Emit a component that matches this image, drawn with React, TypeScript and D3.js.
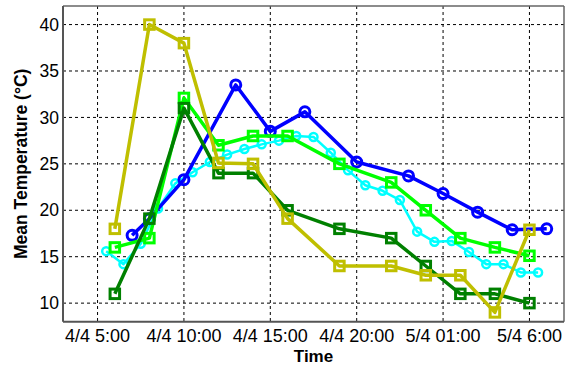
import React from "react";
import * as d3 from "d3";

const W = 568;
const H = 366;

// hours counted from 4/4 00:00
const squareTimes = [6, 8, 10, 12, 14, 16, 19, 22, 24, 26, 28, 30];
const yellowValues = [18, 40, 38, 25.1, 25, 19.1, 14, 14, 13, 13, 9, 17.9];
const darkGreenValues = [11, 19.1, 31, 24, 24, 20, 18, 17, 14, 11, 11, 10];
const lightGreenValues = [16, 17, 32.1, 27, 28, 28, 25, 23, 20, 17, 16, 15.1];

const blueTimes = [7, 8, 10, 13, 15, 17, 20, 23, 25, 27, 29, 31];
const blueValues = [17.3, 19.1, 23.3, 33.5, 28.5, 30.6, 25.2, 23.7, 21.8, 19.8, 17.9, 18];

const cyanTimes = [
  5.5, 6.5, 7.5, 8.5, 9.5, 10.5, 11.5, 12.5, 13.5, 14.5, 15.5, 16.5, 17.5,
  18.5, 19.5, 20.5, 21.5, 22.5, 23.5, 24.5, 25.5, 26.5, 27.5, 28.5, 29.5, 30.5,
];
const cyanValues = [
  15.6, 14.2, 16.4, 20.2, 22.9, 24.1, 25.2, 26.0, 26.6, 27.1, 27.5, 28.0, 27.9,
  26.2, 24.3, 22.7, 22.1, 21.1, 17.7, 16.6, 16.7, 15.5, 14.2, 14.2, 13.3, 13.3,
];

const xTickHours = [5, 10, 15, 20, 25, 30];
const xTickLabels = ["4/4 5:00", "4/4 10:00", "4/4 15:00", "4/4 20:00", "5/4 01:00", "5/4 6:00"];
const yTicks = [10, 15, 20, 25, 30, 35, 40];

const left = 63;
const right = 564;
const top = 6;
const bottom = 321.7;

const x = d3.scaleLinear().domain([3, 32]).range([left, right]);
const y = d3.scaleLinear().domain([8, 42]).range([bottom, top]);

type Series = {
  times: number[];
  values: number[];
  color: string;
  marker: "square" | "circle";
  lw: number;
  ms: number;
  mw: number;
};

const series: Series[] = [
  { times: cyanTimes, values: cyanValues, color: "#00ffff", marker: "circle", lw: 2.5, ms: 4, mw: 2.5 },
  { times: blueTimes, values: blueValues, color: "#0000ff", marker: "circle", lw: 3.5, ms: 5, mw: 3 },
  { times: squareTimes, values: lightGreenValues, color: "#00ff00", marker: "square", lw: 3.5, ms: 9.5, mw: 3 },
  { times: squareTimes, values: darkGreenValues, color: "#008000", marker: "square", lw: 3.5, ms: 9.5, mw: 3 },
  { times: squareTimes, values: yellowValues, color: "#bfbf00", marker: "square", lw: 3.5, ms: 9.5, mw: 3 },
];

const font = "Arial, 'Liberation Sans', sans-serif";

export default function App() {
  const line = d3
    .line<[number, number]>()
    .x((d) => x(d[0]))
    .y((d) => y(d[1]));

  return (
    <svg
      width={W}
      height={H}
      style={{ position: "absolute", left: 0, top: 0, background: "#fff" }}
      fontFamily={font}
    >
      <rect x={0} y={0} width={W} height={H} fill="#fff" />
      {/* grid */}
      {xTickHours.map((h) => (
        <line
          key={"gx" + h}
          x1={x(h)}
          x2={x(h)}
          y1={top}
          y2={bottom}
          stroke="#000"
          strokeWidth={1}
          strokeDasharray="3,3"
        />
      ))}
      {yTicks.map((v) => (
        <line
          key={"gy" + v}
          x1={left}
          x2={right}
          y1={y(v)}
          y2={y(v)}
          stroke="#000"
          strokeWidth={1}
          strokeDasharray="3,3"
        />
      ))}
      {/* frame */}
      <line x1={left} x2={right} y1={top} y2={top} stroke="#666" strokeWidth={1.5} />
      <line x1={right} x2={right} y1={top} y2={bottom} stroke="#666" strokeWidth={1.5} />
      <line x1={left} x2={left} y1={top} y2={bottom} stroke="#555" strokeWidth={2} />
      <line x1={left} x2={right} y1={bottom} y2={bottom} stroke="#555" strokeWidth={2} />

      {/* series */}
      {series.map((s, i) => {
        const pts = s.times.map((t, j) => [t, s.values[j]] as [number, number]);
        return (
          <g key={"s" + i}>
            <path d={line(pts) || ""} fill="none" stroke={s.color} strokeWidth={s.lw} strokeLinejoin="round" />
            {pts.map((p, j) =>
              s.marker === "square" ? (
                <rect
                  key={j}
                  x={x(p[0]) - s.ms / 2}
                  y={y(p[1]) - s.ms / 2}
                  width={s.ms}
                  height={s.ms}
                  fill="none"
                  stroke={s.color}
                  strokeWidth={s.mw}
                />
              ) : (
                <circle key={j} cx={x(p[0])} cy={y(p[1])} r={s.ms} fill="none" stroke={s.color} strokeWidth={s.mw} />
              )
            )}
          </g>
        );
      })}

      {/* y tick labels */}
      {yTicks.map((v) => (
        <text key={"yt" + v} x={left - 4} y={y(v)} dy="0.35em" textAnchor="end" fontSize={17.5} fill="#000">
          {v}
        </text>
      ))}
      {/* x tick labels */}
      {xTickHours.map((h, i) => (
        <text key={"xt" + h} x={x(h)} y={342} textAnchor="middle" fontSize={18} fill="#000">
          {xTickLabels[i]}
        </text>
      ))}
      <text x={(left + right) / 2} y={362} textAnchor="middle" fontSize={17} fontWeight="bold" fill="#000">
        Time
      </text>
      <text
        transform={`translate(27,${(top + bottom) / 2}) rotate(-90)`}
        textAnchor="middle"
        fontSize={17.5}
        fontWeight="bold"
        fill="#000"
      >
        Mean Temperature (°C)
      </text>
    </svg>
  );
}
